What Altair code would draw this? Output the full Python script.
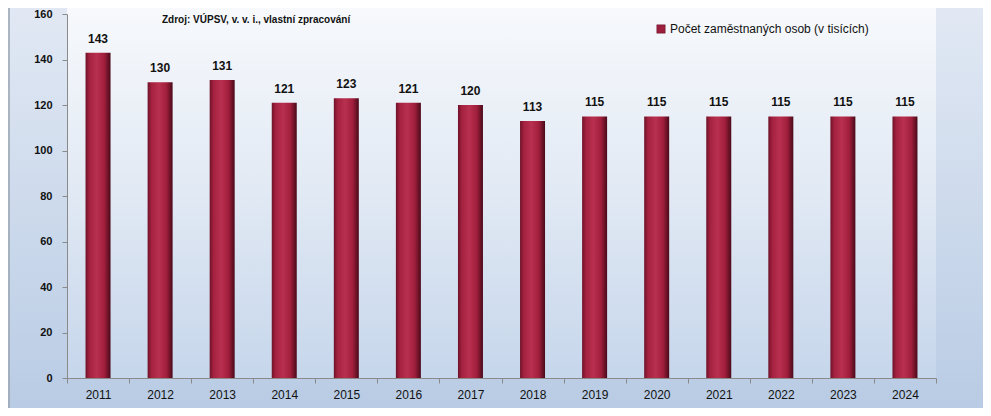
import altair as alt
import pandas as pd

years = ["2011", "2012", "2013", "2014", "2015", "2016", "2017", "2018", "2019", "2020", "2021", "2022", "2023", "2024"]
values = [143, 130, 131, 121, 123, 121, 120, 113, 115, 115, 115, 115, 115, 115]
series_name = "Počet zaměstnaných osob (v tisících)"
source_text = "Zdroj: VÚPSV, v. v. i., vlastní zpracování"
y_ticks = [0, 20, 40, 60, 80, 100, 120, 140, 160]

df = pd.DataFrame({"rok": years, "hodnota": values})
one = pd.DataFrame({"serie": [series_name]})

W, H = 869, 364
PL, PR, PT, PB = 59, 47, 6, 30

x_enc = alt.X("rok:N", sort=years, title=None,
              scale=alt.Scale(paddingInner=0, paddingOuter=0),
              axis=alt.Axis(labelAngle=0, tickBand="extent", labelFontSize=12,
                            labelFont="Liberation Sans", labelColor="#111",
                            labelPadding=6, tickSize=5, tickColor="#8a8a8a",
                            domainColor="#8a8a8a", grid=False, zindex=2))
y_enc = alt.Y("hodnota:Q", title=None,
              scale=alt.Scale(domain=[0, 160], nice=False),
              axis=alt.Axis(values=y_ticks, labelFontSize=11, labelFontWeight="bold",
                            labelFont="Liberation Sans", labelColor="#111",
                            labelPadding=10, tickSize=5, tickColor="#8a8a8a",
                            domainColor="#8a8a8a", grid=False, zindex=2))

outer_bg = alt.Chart(one).mark_rect(
    color=alt.Gradient(gradient="linear", x1=0, x2=0, y1=0, y2=1,
                       stops=[alt.GradientStop(offset=0, color="#e2e9f4"),
                              alt.GradientStop(offset=1, color="#b8cbe4")])
).encode(x=alt.value(-PL - 10), x2=alt.value(W + PR + 10),
         y=alt.value(-PT - 10), y2=alt.value(H + PB + 10))

plot_bg = alt.Chart(one).mark_rect(
    color=alt.Gradient(gradient="linear", x1=0, x2=0, y1=0, y2=1,
                       stops=[alt.GradientStop(offset=0, color="#f7f9fc"),
                              alt.GradientStop(offset=0.5, color="#e1e9f4"),
                              alt.GradientStop(offset=1, color="#c6d6eb")])
).encode(x=alt.value(0), x2=alt.value(W), y=alt.value(-6), y2=alt.value(H))

left_line = alt.Chart(one).mark_rule(color="#9aa4b0", strokeWidth=1.5).encode(
    x=alt.value(-PL + 1), y=alt.value(-PT), y2=alt.value(H + PB))

bar_grad = alt.Gradient(gradient="linear", x1=0, x2=1, y1=0, y2=0,
                        stops=[alt.GradientStop(offset=0, color="#6e1229"),
                               alt.GradientStop(offset=0.15, color="#a3213f"),
                               alt.GradientStop(offset=0.45, color="#b9304f"),
                               alt.GradientStop(offset=0.75, color="#a11f3c"),
                               alt.GradientStop(offset=1, color="#4a0a1a")])

bars = alt.Chart(df).mark_bar(size=25, color=bar_grad).encode(x=x_enc, y=y_enc)

labels = alt.Chart(df).mark_text(
    baseline="bottom", dy=-7, fontSize=12, fontWeight="bold",
    font="Liberation Sans", color="#111"
).encode(x=alt.X("rok:N", sort=years), y="hodnota:Q", text="hodnota:Q")

legend_layer = alt.Chart(one).mark_point(filled=True, opacity=0, shape="square").encode(
    color=alt.Color("serie:N",
                    scale=alt.Scale(domain=[series_name], range=["#9e1f3d"]),
                    legend=alt.Legend(title=None, orient="none", legendX=588, legendY=9,
                                      symbolType="square", symbolSize=70, symbolOpacity=1,
                                      symbolStrokeColor="#5a0d20", symbolStrokeWidth=0.5,
                                      labelFontSize=12, labelFont="Liberation Sans",
                                      labelColor="#111", labelOffset=3, labelLimit=400))
)

source = alt.Chart(one).mark_text(
    align="left", baseline="middle", fontSize=10, fontWeight="bold",
    font="Liberation Sans", color="#111"
).encode(x=alt.value(95), y=alt.value(6), text=alt.value(source_text))

chart = alt.layer(outer_bg, plot_bg, left_line, bars, labels, legend_layer, source).properties(
    width=W, height=H,
    padding={"left": PL, "right": PR, "top": PT, "bottom": PB},
    autosize=alt.AutoSizeParams(type="none"),
).configure_view(stroke=None).configure(background="#ffffff")

chart.save("out.html", embed_options={"renderer": "svg", "actions": False})
